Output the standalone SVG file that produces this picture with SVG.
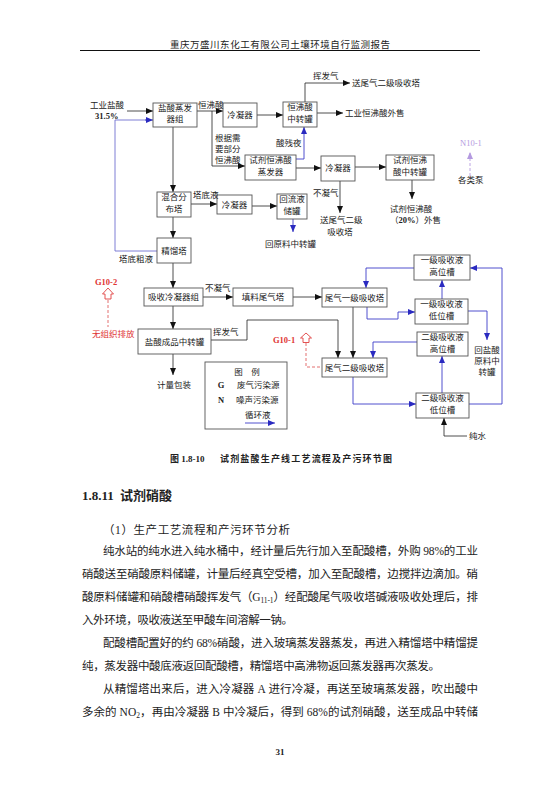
<svg xmlns="http://www.w3.org/2000/svg" width="543" height="802" viewBox="0 0 543 802">
<style>
text{font-family:"Liberation Serif","Noto Sans CJK SC",serif;fill:#222;}
.t{font-size:8.5px;}
.c{text-anchor:middle;}
.b{font-weight:bold;}
.red{fill:#e03434;}
.box rect{fill:#fff;stroke:#555;stroke-width:0.9;}
.k{fill:none;stroke:#222;stroke-width:0.8;marker-end:url(#ak);}
.bl{fill:none;stroke:#3c3cc8;stroke-width:0.9;marker-end:url(#ab);}
.bln{fill:none;stroke:#7070d0;stroke-width:0.9;}
.rd{fill:none;stroke:#e06060;stroke-width:0.9;stroke-dasharray:3,2;}
.p{font-size:11.5px;}
</style>
<defs>
<marker id="ak" markerUnits="userSpaceOnUse" markerWidth="7" markerHeight="6" refX="7" refY="3" orient="auto"><path d="M0,0 L7,3 L0,6 z" fill="#111"/></marker>
<marker id="ab" markerUnits="userSpaceOnUse" markerWidth="7" markerHeight="6" refX="7" refY="3" orient="auto"><path d="M0,0 L7,3 L0,6 z" fill="#2a2ac0"/></marker>
<marker id="ap" markerUnits="userSpaceOnUse" markerWidth="7" markerHeight="6" refX="7" refY="3" orient="auto"><path d="M0,0 L7,3 L0,6 z" fill="#b49ae0"/></marker>
</defs>
<rect width="543" height="802" fill="#fff"/>
<!-- header -->
<text x="170" y="47.5" font-size="9.5" textLength="220" lengthAdjust="spacing">重庆万盛川东化工有限公司土壤环境自行监测报告</text>
<line x1="80" y1="50.5" x2="480" y2="50.5" stroke="#111" stroke-width="1"/>

<g id="connectors">
<path class="k" d="M127,111 H153"/>
<path class="k" d="M197,111 H223"/>
<path class="k" d="M257,115 H283"/>
<path class="k" d="M305,102 V83 H350"/>
<path class="k" d="M317,113 H343"/>
<path class="k" d="M212,111 V166 H245"/>
<path class="k" d="M173,127 V192"/>
<path class="k" d="M296,168 H321"/>
<path class="k" d="M355,167 H386"/>
<path class="k" d="M412,180 V199"/>
<path class="k" d="M340,181 V213"/>
<path class="k" d="M191,204 H217"/>
<path class="k" d="M252,206 H277"/>
<path class="k" d="M173,217 V238"/>
<path class="k" d="M173,263 V288"/>
<path class="k" d="M203,297 H233"/>
<path class="k" d="M293,297 H322"/>
<path class="k" d="M173,306 V329"/>
<path class="k" d="M211,340 H247 V320 H338 V358"/>
<path class="k" d="M353,307 V358"/>
<path class="k" d="M173,354 V375"/>
<path class="k" d="M467,436 H444 V418"/>
<path class="bln" d="M157,251 H115 V120 H146"/>
<path class="bl" d="M145,120 H153"/>
<path class="bl" d="M296,159 H304 V127"/>
<path class="bl" d="M293,219 V232"/>
<path class="bl" d="M367,307 V319 H398 V312 H415"/>
<path class="bl" d="M442,299 V280"/>
<path class="bl" d="M414,268 H366 V288"/>
<path class="bl" d="M468,311 H487 V340"/>
<path class="bl" d="M417,342 H373 V358"/>
<path class="bl" d="M442,393 V356"/>
<path class="bl" d="M353,377 V404 H416"/>
<path class="bl" d="M469,404 H502 V268 H470"/>
<path d="M470,176 V152" fill="none" stroke="#b49ae0" stroke-width="0.9" stroke-dasharray="3,2" marker-end="url(#ap)"/>
<path class="rd" d="M108,300 V327"/>
<path class="rd" d="M306,343 V367 H322"/>
</g>

<g id="nodes">
<g id="n1" class="box"><rect x="153" y="103" width="44" height="24"/><text class="t c" x="175" y="111">盐酸蒸发</text><text class="t c" x="175" y="122">器组</text></g>
<g id="n2" class="box"><rect x="223" y="103" width="34" height="24"/><text class="t c" x="240" y="118">冷凝器</text></g>
<g id="n3" class="box"><rect x="283" y="102" width="34" height="25"/><text class="t c" x="300" y="110">恒沸酸</text><text class="t c" x="300" y="121.5">中转罐</text></g>
<g id="n4" class="box"><rect x="245" y="155" width="51" height="25"/><text class="t c" x="270.5" y="163">试剂恒沸酸</text><text class="t c" x="270.5" y="174.5">蒸发器</text></g>
<g id="n5" class="box"><rect x="321" y="156" width="34" height="25"/><text class="t c" x="338" y="171">冷凝器</text></g>
<g id="n6" class="box"><rect x="386" y="155" width="48" height="25"/><text class="t c" x="410" y="163">试剂恒沸</text><text class="t c" x="410" y="174.5">酸中转罐</text></g>
<g id="n7" class="box"><rect x="157" y="192" width="34" height="25"/><text class="t c" x="174" y="200">混合分</text><text class="t c" x="174" y="211.5">布塔</text></g>
<g id="n8" class="box"><rect x="217" y="195" width="35" height="19"/><text class="t c" x="234.5" y="207.5">冷凝器</text></g>
<g id="n9" class="box"><rect x="277" y="194" width="30" height="25"/><text class="t c" x="292" y="202">回流液</text><text class="t c" x="292" y="213.5">储罐</text></g>
<g id="n10" class="box"><rect x="157" y="238" width="34" height="25"/><text class="t c" x="174" y="253.5">精馏塔</text></g>
<g id="n11" class="box"><rect x="144" y="288" width="59" height="18"/><text class="t c" x="173.5" y="300">吸收冷凝器组</text></g>
<g id="n12" class="box"><rect x="233" y="288" width="60" height="18"/><text class="t c" x="263" y="300">填料尾气塔</text></g>
<g id="n13" class="box"><rect x="322" y="288" width="65" height="19"/><text class="t c" x="354.5" y="300.5">尾气一级吸收塔</text></g>
<g id="n14" class="box"><rect x="138" y="329" width="73" height="25"/><text class="t c" x="174.5" y="344.5">盐酸成品中转罐</text></g>
<g id="n15" class="box"><rect x="322" y="358" width="65" height="19"/><text class="t c" x="354.5" y="370.5">尾气二级吸收塔</text></g>
<g id="n16" class="box"><rect x="414" y="255" width="56" height="25"/><text class="t c" x="442" y="263">一级吸收液</text><text class="t c" x="442" y="274.5">高位槽</text></g>
<g id="n17" class="box"><rect x="415" y="299" width="53" height="25"/><text class="t c" x="441.5" y="307">一级吸收液</text><text class="t c" x="441.5" y="318.5">低位槽</text></g>
<g id="n18" class="box"><rect x="417" y="332" width="51" height="24"/><text class="t c" x="442.5" y="340">二级吸收液</text><text class="t c" x="442.5" y="351.5">高位槽</text></g>
<g id="n19" class="box"><rect x="416" y="393" width="53" height="25"/><text class="t c" x="442.5" y="401">二级吸收液</text><text class="t c" x="442.5" y="412.5">低位槽</text></g>
<g id="g102"><polygon points="108,288 113.5,294 111,294 111,299 105,299 105,294 102.5,294" fill="none" stroke="#e04040" stroke-width="0.9"/></g>
<g id="g101"><polygon points="306,333 311.5,338 309,338 309,342.5 303,342.5 303,338 300.5,338" fill="none" stroke="#e04040" stroke-width="0.9"/></g>
<g id="legend" class="box"><rect x="205" y="362" width="82" height="67"/>
<text class="t c" x="247" y="375">图　例</text>
<text class="t c b" x="221" y="388">G</text><text class="t" x="237" y="388">废气污染源</text>
<text class="t c b" x="221" y="403">N</text><text class="t" x="236" y="403">噪声污染源</text>
<text class="t" x="245" y="418">循环液</text>
<path class="bl" d="M245,423 H275"/>
</g>
</g>

<g id="labels">
<text class="t" x="90" y="108">工业盐酸</text>
<text class="t b" x="95" y="119">31.5%</text>
<text class="t" x="198" y="108">恒沸酸</text>
<text class="t" x="313" y="79">挥发气</text>
<text class="t" x="352" y="86">送尾气二级吸收塔</text>
<text class="t" x="345" y="116">工业恒沸酸外售</text>
<text class="t" x="215" y="141">根据需</text>
<text class="t" x="215" y="152">要部分</text>
<text class="t" x="215" y="163">恒沸酸</text>
<text class="t" x="276" y="146">酸残夜</text>
<text class="t" x="460" y="146" fill="#b49ae0" style="fill:#b49ae0">N10-1</text>
<text class="t" x="458" y="183">各类泵</text>
<text class="t c" x="411" y="212">试剂恒沸酸</text>
<text class="t" x="390" y="223">（<tspan class="b">20%</tspan>）外售</text>
<text class="t" x="313" y="196">不凝气</text>
<text class="t" x="320" y="223">送尾气二级</text>
<text class="t c" x="340" y="235">吸收塔</text>
<text class="t" x="193" y="198">塔底液</text>
<text class="t" x="265" y="247">回原料中转罐</text>
<text class="t" x="119" y="262">塔底粗液</text>
<text class="t b red" x="95" y="285">G10-2</text>
<text class="t red" x="92" y="337">无组织排放</text>
<text class="t" x="205" y="291">不凝气</text>
<text class="t" x="213" y="335">挥发气</text>
<text class="t b red" x="273" y="343">G10-1</text>
<text class="t" x="157" y="388">计量包装</text>
<text class="t c" x="487" y="353">回盐酸</text>
<text class="t c" x="487" y="364">原料中</text>
<text class="t c" x="487" y="375">转罐</text>
<text class="t" x="469" y="439">纯水</text>
</g>

<!-- caption and body text -->
<text class="b" x="170" y="462" font-size="9">图 1.8-10</text>
<text class="b" x="220" y="462" font-size="9" textLength="172" lengthAdjust="spacing">试剂盐酸生产线工艺流程及产污环节图</text>
<text class="b" x="82" y="499.5" font-size="13">1.8.11 <tspan dx="3">试剂硝酸</tspan></text>
<text class="p" x="103" y="533.5" textLength="187" lengthAdjust="spacing">（1）生产工艺流程和产污环节分析</text>
<text class="p" x="103" y="555" textLength="375" lengthAdjust="spacing">纯水站的纯水进入纯水桶中，经计量后先行加入至配酸槽，外购 98%的工业</text>
<text class="p" x="82" y="578" textLength="396" lengthAdjust="spacing">硝酸送至硝酸原料储罐，计量后经真空受槽，加入至配酸槽，边搅拌边滴加。硝</text>
<text class="p" x="82" y="601" textLength="396" lengthAdjust="spacing">酸原料储罐和硝酸槽硝酸挥发气（G<tspan font-size="7.5" dy="2">11-1</tspan><tspan dy="-2">）经配酸尾气吸收塔碱液吸收处理后，排</tspan></text>
<text class="p" x="82" y="624" textLength="211" lengthAdjust="spacing">入外环境，吸收液送至甲酸车间溶解一钠。</text>
<text class="p" x="103" y="647" textLength="375" lengthAdjust="spacing">配酸槽配置好的约 68%硝酸，进入玻璃蒸发器蒸发，再进入精馏塔中精馏提</text>
<text class="p" x="82" y="670" textLength="358" lengthAdjust="spacing">纯，蒸发器中酸底液返回配酸槽，精馏塔中高沸物返回蒸发器再次蒸发。</text>
<text class="p" x="103" y="693" textLength="375" lengthAdjust="spacing">从精馏塔出来后，进入冷凝器 A 进行冷凝，再送至玻璃蒸发器，吹出酸中</text>
<text class="p" x="82" y="716" textLength="396" lengthAdjust="spacing">多余的 NO<tspan font-size="7.5" dy="2">2</tspan><tspan dy="-2">，再由冷凝器 B 中冷凝后，得到 68%的试剂硝酸，送至成品中转储</tspan></text>
<text class="b" x="280" y="755" font-size="9" text-anchor="middle">31</text>
</svg>
